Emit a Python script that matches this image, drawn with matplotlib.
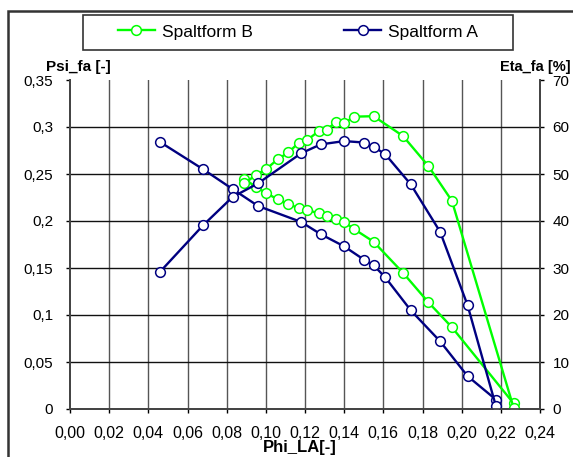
import matplotlib
matplotlib.use('Agg')
import matplotlib.pyplot as plt
from matplotlib.patches import Rectangle
from matplotlib.ticker import FuncFormatter

plt.rcParams['font.family'] = ['Liberation Sans', 'DejaVu Sans']

# Spaltform A (blue)
phi_a = [0.046, 0.068, 0.083, 0.096, 0.118, 0.128, 0.140, 0.150, 0.155, 0.161, 0.174, 0.189, 0.203, 0.2175]
psi_a = [0.284, 0.255, 0.234, 0.216, 0.199, 0.186, 0.173, 0.159, 0.153, 0.140, 0.105, 0.072, 0.035, 0.010]
eta_a = [29.2, 39.1, 45.1, 48.0, 54.4, 56.3, 57.0, 56.7, 55.8, 54.2, 47.8, 37.7, 22.1, 0.6]

# Spaltform B (green)
phi_b = [0.089, 0.095, 0.100, 0.106, 0.1115, 0.117, 0.121, 0.127, 0.131, 0.136, 0.140, 0.145,
         0.155, 0.170, 0.183, 0.195, 0.2265]
psi_b = [0.245, 0.236, 0.230, 0.223, 0.218, 0.2135, 0.212, 0.208, 0.205, 0.202, 0.199, 0.1915,
         0.178, 0.145, 0.1135, 0.087, 0.006]
eta_b = [48.0, 49.8, 51.0, 53.1, 54.6, 56.7, 57.2, 59.1, 59.4, 61.1, 60.8, 62.2,
         62.3, 58.1, 51.7, 44.3, 0.3]

x_ticks = [0.00, 0.02, 0.04, 0.06, 0.08, 0.10, 0.12, 0.14, 0.16, 0.18, 0.20, 0.22, 0.24]
psi_ticks = [0, 0.05, 0.1, 0.15, 0.2, 0.25, 0.3, 0.35]
eta_ticks = [0, 10, 20, 30, 40, 50, 60, 70]

blue = '#000080'
green = '#00ff00'

fig = plt.figure(figsize=(5.73, 4.57), dpi=100)
ax = fig.add_axes([70 / 573, 48 / 457, 470 / 573, 329 / 457])
ax2 = ax.twinx()

mk = dict(marker='o', markersize=7, markerfacecolor='white', markeredgewidth=1.1, linewidth=1.7)
ax.plot(phi_b, psi_b, color=green, markeredgecolor=green, label='Spaltform B', **mk)
ax.plot(phi_a, psi_a, color=blue, markeredgecolor=blue, label='Spaltform A', **mk)
ax2.plot(phi_b, eta_b, color=green, markeredgecolor=green, **mk)
ax2.plot(phi_a, eta_a, color=blue, markeredgecolor=blue, **mk)

ax.set_xlim(0, 0.24)
ax.set_ylim(0, 0.35)
ax2.set_ylim(0, 70)
ax.set_xticks(x_ticks)
ax.set_yticks(psi_ticks)
ax2.set_yticks(eta_ticks)
ax.xaxis.set_major_formatter(FuncFormatter(lambda v, p: f'{v:.2f}'.replace('.', ',')))
ax.yaxis.set_major_formatter(FuncFormatter(lambda v, p: f'{v:g}'.replace('.', ',')))
ax2.yaxis.set_major_formatter(FuncFormatter(lambda v, p: f'{v:g}'))

# grid
for v in x_ticks[1:-1]:
    ax.axvline(v, color='#555555', lw=1.0, zorder=0)
for v in psi_ticks[1:-1]:
    ax.axhline(v, color='#111111', lw=1.0, zorder=0)

for a in (ax, ax2):
    a.spines['top'].set_visible(False)
    for s in ('left', 'right', 'bottom'):
        a.spines[s].set_color('#444444')
        a.spines[s].set_linewidth(1.3)
ax.tick_params(axis='x', direction='out', length=3, width=1, pad=9, labelsize=11.5, colors='black')
ax.tick_params(axis='y', direction='out', length=3, width=1, pad=9, labelsize=11)
ax2.tick_params(axis='y', direction='out', length=3, width=1, pad=6, labelsize=11)

fig.text(78 / 573, 1 - 67 / 457, 'Psi_fa [-]', ha='center', va='center', fontsize=11, fontweight='bold')
fig.text(571 / 573, 1 - 67 / 457, 'Eta_fa [%]', ha='right', va='center', fontsize=10.5, fontweight='bold')
fig.text(300 / 573, 2 / 457, 'Phi_LA[-]', ha='center', va='bottom', fontsize=12, fontweight='bold')

# outer chart border and legend box
fig.patches.append(Rectangle((8 / 573, -0.1), 1.2, 1.1 - 11 / 457, transform=fig.transFigure,
                             fill=False, ec='#333333', lw=1.8))
fig.patches.append(Rectangle((83 / 573, 1 - 50 / 457), 430 / 573, 35.4 / 457, transform=fig.transFigure,
                             fill=False, ec='#333333', lw=1.2))
fig.legend(loc='center', bbox_to_anchor=(298 / 573, 1 - 32 / 457), ncol=2, frameon=False,
           fontsize=12.5, handlelength=2.1, handletextpad=0.4, columnspacing=5.3)

plt.savefig('out.png', dpi=100)
